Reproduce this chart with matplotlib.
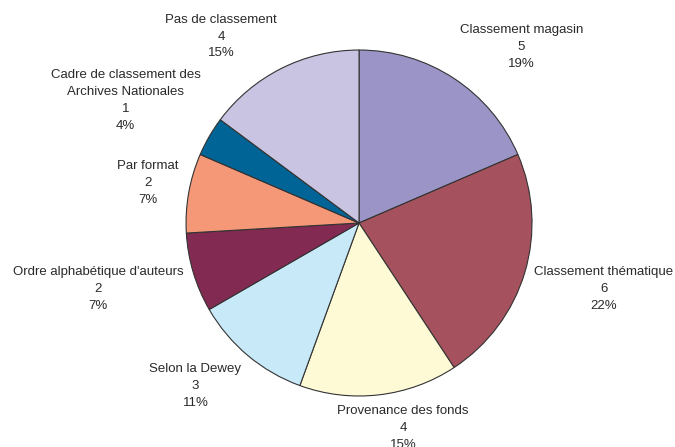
import matplotlib
matplotlib.use("Agg")
import matplotlib.pyplot as plt
import numpy as np

# data
categories = ["Classement magasin", "Classement thématique", "Provenance des fonds",
              "Selon la Dewey", "Ordre alphabétique d'auteurs", "Par format",
              "Cadre de classement des\nArchives Nationales", "Pas de classement"]
counts = [5, 6, 4, 3, 2, 2, 1, 4]
colors = ["#9A94C7", "#A5525E", "#FFFAD6", "#C8E9F8",
          "#832A52", "#F59878", "#006496", "#C8C4E2"]

plt.rcParams['font.family'] = ['Liberation Sans', 'DejaVu Sans']

fig = plt.figure(figsize=(6.75, 4.47), dpi=100)
ax = fig.add_axes([0.2756, 0.1141, 0.5126, 0.774])
wedges, _ = ax.pie(counts, colors=colors, startangle=90, counterclock=False, radius=1,
                   wedgeprops=dict(edgecolor='#333333', linewidth=0.8))
ax.set_xlim(-1, 1)
ax.set_ylim(-1, 1)
ax.set_aspect('equal')
ax.axis('off')

# place labels outside the pie, roughly like the spreadsheet "outside end" layout
total = sum(counts)
fig.canvas.draw()
renderer = fig.canvas.get_renderer()
px = ax.bbox.width / 2  # pixels per data unit
for w, name, n in zip(wedges, categories, counts):
    theta = np.deg2rad((w.theta1 + w.theta2) / 2)
    pct = round(100 * n / total)
    t = ax.text(0, 0, f"{name}\n{n}\n{pct}%", ha='center', va='center',
                fontsize=9.5, color='#2a2a2a', linespacing=1.55)
    bb = t.get_window_extent(renderer)
    c, s = np.cos(theta), np.sin(theta)
    r = 1 + 10 / px
    x = r * c + (bb.width / 2) * np.clip(3 * c, -1, 1) / px
    y = r * s + (bb.height / 2) * np.clip(2 * s, -1, 1) / px
    t.set_position((x, y))

fig.savefig('out.png', dpi=100)
